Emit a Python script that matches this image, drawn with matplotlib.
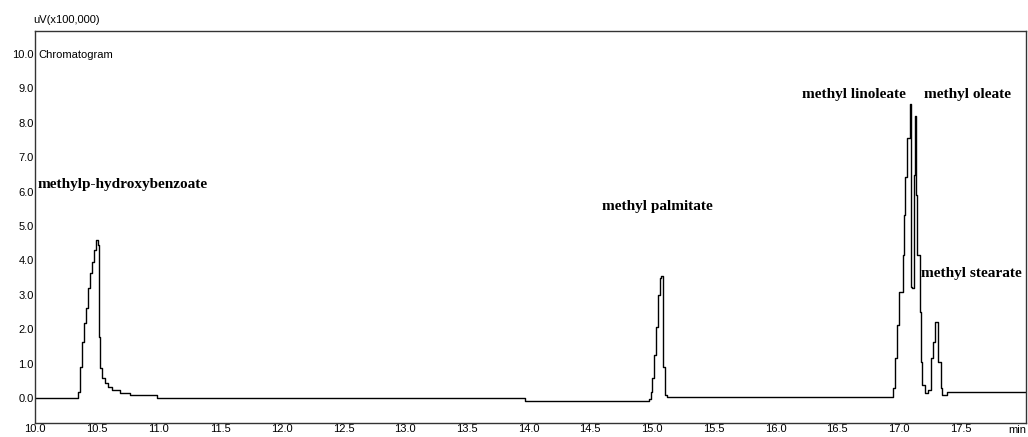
import matplotlib
matplotlib.use("Agg")
import matplotlib.pyplot as plt

# Retention time (min) and detector signal (uV x 100,000)
time_min = [
    10.00, 10.349, 10.365, 10.381, 10.398, 10.414, 10.430, 10.446, 10.463,
    10.479, 10.495, 10.511, 10.519, 10.528, 10.544, 10.568, 10.593, 10.625,
    10.690, 10.770, 10.990, 13.970,
    14.975, 14.990, 14.998, 15.015, 15.030, 15.050, 15.065, 15.075, 15.090,
    15.106, 15.120,
    16.956, 16.972, 16.989, 17.005, 17.030, 17.040, 17.050, 17.070, 17.087,
    17.095, 17.110, 17.120, 17.135, 17.143, 17.150, 17.170, 17.180, 17.190,
    17.210, 17.240, 17.260, 17.280, 17.297, 17.320, 17.340, 17.350, 17.390,
    18.030,
]
signal = [
    0.00, 0.17, 0.90, 1.63, 2.18, 2.62, 3.20, 3.63, 3.95,
    4.30, 4.60, 4.45, 1.77, 0.87, 0.58, 0.44, 0.32, 0.23,
    0.15, 0.09, 0.00, -0.08,
    -0.03, 0.17, 0.58, 1.25, 2.06, 3.00, 3.50, 3.55, 0.90,
    0.09, 0.03,
    0.29, 1.16, 2.12, 3.08, 4.16, 5.32, 6.42, 7.56, 8.55,
    3.23, 3.20, 6.48, 8.20, 5.90, 4.16, 2.50, 1.05, 0.38,
    0.15, 0.23, 1.16, 1.63, 2.21, 1.05, 0.29, 0.09, 0.17,
    0.17,
]

# Peak annotations: name, label anchor time, label level, horizontal alignment
peak_names = ["methylp-hydroxybenzoate", "methyl palmitate", "methyl linoleate",
              "methyl oleate", "methyl stearate"]
peak_label_t = [10.024, 14.594, 17.06, 17.20, 17.183]
peak_label_v = [6.22, 5.58, 8.81, 8.81, 3.63]
peak_label_ha = ["left", "left", "right", "left", "left"]

x_ticks = [10.0, 10.5, 11.0, 11.5, 12.0, 12.5, 13.0, 13.5, 14.0, 14.5,
           15.0, 15.5, 16.0, 16.5, 17.0, 17.5]
y_ticks = [0.0, 1.0, 2.0, 3.0, 4.0, 5.0, 6.0, 7.0, 8.0, 9.0, 10.0]

fig = plt.figure(figsize=(10.28, 4.37), dpi=100)
ax = fig.add_axes([0.034, 0.032, 0.964, 0.897])

ax.plot(time_min, signal, color="black", lw=1.0, drawstyle="steps-post")

ax.set_xlim(10.0, 18.03)
ax.set_ylim(-0.73, 10.67)

tick_font = dict(family="Liberation Sans", size=8)
ax.set_xticks(x_ticks)
ax.set_xticklabels([f"{v:.1f}" for v in x_ticks], **tick_font)
ax.set_yticks(y_ticks)
ax.set_yticklabels([f"{v:.1f}" for v in y_ticks], **tick_font)
ax.tick_params(axis="both", length=0, pad=1, colors="black")

for s in ax.spines.values():
    s.set_color("#333333")
    s.set_linewidth(1.0)

for name, t, v, ha in zip(peak_names, peak_label_t, peak_label_v, peak_label_ha):
    ax.text(t, v, name, family="Liberation Serif", weight="bold", size=11,
            ha=ha, va="center")

fig.text(33 / 1028, 1 - 20 / 437, "uV(x100,000)", family="Liberation Sans",
         size=8, ha="left", va="center")
ax.text(0.003, 0.939, "Chromatogram", transform=ax.transAxes,
        family="Liberation Sans", size=8, ha="left", va="center")
fig.text(1026 / 1028, 1 - 430 / 437, "min", family="Liberation Sans",
         size=8, ha="right", va="center")

fig.savefig("out.png", dpi=100)
